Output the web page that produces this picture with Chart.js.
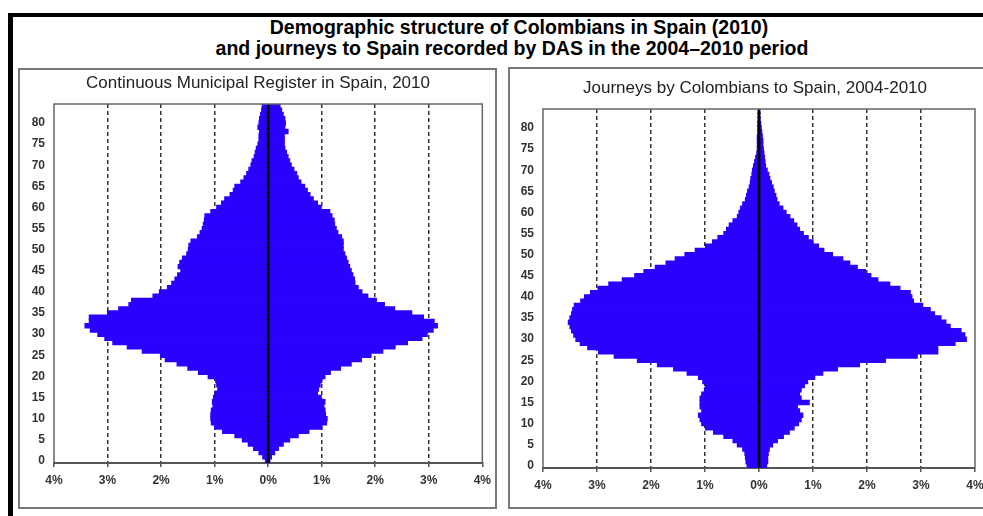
<!DOCTYPE html>
<html>
<head>
<meta charset="utf-8">
<script src="https://cdn.jsdelivr.net/npm/chart.js@4.4.0/dist/chart.umd.min.js"></script>
<style>
html, body { margin: 0; padding: 0; background: #fff; overflow: hidden; width: 983px; height: 516px; }
#frame { position: absolute; left: 8px; top: 13px; width: 1100px; height: 600px; border-top: 4px solid #000; border-left: 5px solid #000; }
.title { position: absolute; width: 800px; height: 22px; line-height: 22px; text-align: center; font: bold 19.5px "Liberation Sans", Arial, sans-serif; color: #000; white-space: nowrap; }
.sub { position: absolute; width: 500px; height: 20px; line-height: 20px; text-align: center; font: 17px "Liberation Sans", Arial, sans-serif; color: #222; white-space: nowrap; }
.box { position: absolute; }
.edge { position: absolute; border: 2px solid #777; box-sizing: border-box; pointer-events: none; }
</style>
</head>
<body>
<div id="frame"></div>
<div class="title" style="left:119px; top:16px;">Demographic structure of Colombians in Spain (2010)</div>
<div class="title" style="left:112px; top:37px;">and journeys to Spain recorded by DAS in the 2004–2010 period</div>

<div class="box" style="left:18px; top:68px; width:479px; height:440px;"><canvas id="register"></canvas></div>
<div class="edge" style="left:18px; top:68px; width:479px; height:441px;"></div>
<div class="sub" style="left:8px; top:73px;">Continuous Municipal Register in Spain, 2010</div>

<div class="box" style="left:508px; top:67px; width:495px; height:441px;"><canvas id="journeys"></canvas></div>
<div class="edge" style="left:508px; top:67px; width:495px; height:442px;"></div>
<div class="sub" style="left:505px; top:78px;">Journeys by Colombians to Spain, 2004-2010</div>

<script>
// single years of age, bottom to top
const ages = [0, 1, 2, 3, 4, 5, 6, 7, 8, 9, 10, 11, 12, 13, 14, 15, 16, 17, 18, 19,
  20, 21, 22, 23, 24, 25, 26, 27, 28, 29, 30, 31, 32, 33, 34, 35, 36, 37, 38, 39,
  40, 41, 42, 43, 44, 45, 46, 47, 48, 49, 50, 51, 52, 53, 54, 55, 56, 57, 58, 59,
  60, 61, 62, 63, 64, 65, 66, 67, 68, 69, 70, 71, 72, 73, 74, 75, 76, 77, 78, 79,
  80, 81, 82, 83, 84];

// % of total, left half of the pyramid (Municipal Register 2010)
const registerLeft = [0.05, 0.10, 0.17, 0.27, 0.37, 0.48, 0.62, 0.85, 1.00, 1.06,
  1.07, 1.07, 1.06, 1.03, 1.04, 1.02, 0.99, 0.94, 0.96, 0.98,
  1.12, 1.30, 1.50, 1.70, 1.92, 2.01, 2.35, 2.63, 2.90, 3.05,
  3.18, 3.32, 3.42, 3.34, 3.34, 3.00, 2.79, 2.60, 2.55, 2.15,
  2.03, 1.88, 1.80, 1.74, 1.69, 1.63, 1.68, 1.65, 1.60, 1.52,
  1.49, 1.48, 1.44, 1.32, 1.27, 1.23, 1.21, 1.19, 1.18, 1.07,
  0.96, 0.87, 0.81, 0.71, 0.65, 0.62, 0.51, 0.45, 0.40, 0.36,
  0.32, 0.30, 0.26, 0.24, 0.22, 0.19, 0.17, 0.17, 0.16, 0.19,
  0.17, 0.16, 0.14, 0.12, 0.11];

// % of total, right half (Municipal Register 2010)
const registerRight = [0.03, 0.06, 0.12, 0.19, 0.28, 0.40, 0.56, 0.76, 1.00, 1.09,
  1.10, 1.07, 1.06, 1.04, 1.06, 0.99, 0.92, 0.94, 0.97, 1.00,
  1.06, 1.16, 1.35, 1.55, 1.74, 1.92, 2.14, 2.37, 2.60, 2.87,
  2.97, 3.08, 3.16, 3.10, 2.90, 2.68, 2.36, 2.17, 2.02, 1.86,
  1.75, 1.68, 1.62, 1.61, 1.58, 1.55, 1.52, 1.49, 1.46, 1.43,
  1.40, 1.40, 1.40, 1.37, 1.30, 1.27, 1.24, 1.23, 1.19, 1.15,
  0.99, 0.92, 0.84, 0.78, 0.73, 0.68, 0.61, 0.56, 0.53, 0.48,
  0.43, 0.40, 0.37, 0.34, 0.31, 0.30, 0.30, 0.30, 0.37, 0.31,
  0.32, 0.31, 0.28, 0.25, 0.22];

// % of total, left half (DAS journeys 2004-2010)
const journeysLeft = [0.22, 0.24, 0.25, 0.26, 0.30, 0.40, 0.48, 0.65, 0.84, 0.99,
  1.06, 1.09, 1.12, 1.06, 1.09, 1.09, 1.09, 1.06, 1.01, 0.99,
  1.04, 1.12, 1.33, 1.58, 1.88, 2.25, 2.68, 2.97, 3.17, 3.31,
  3.39, 3.43, 3.47, 3.50, 3.53, 3.50, 3.47, 3.45, 3.42, 3.30,
  3.23, 3.12, 2.98, 2.78, 2.53, 2.30, 2.13, 1.92, 1.72, 1.55,
  1.37, 1.18, 0.99, 0.86, 0.76, 0.65, 0.60, 0.55, 0.48, 0.40,
  0.37, 0.34, 0.30, 0.25, 0.23, 0.21, 0.18, 0.16, 0.15, 0.13,
  0.12, 0.10, 0.08, 0.06, 0.04, 0.03, 0.03, 0.03, 0.03, 0.02,
  0.02, 0.02, 0.01, 0.01, 0.01];

// % of total, right half (DAS journeys 2004-2010)
const journeysRight = [0.14, 0.16, 0.16, 0.17, 0.19, 0.25, 0.34, 0.45, 0.56, 0.65,
  0.73, 0.78, 0.81, 0.75, 0.71, 0.93, 0.78, 0.75, 0.78, 0.84,
  0.90, 1.03, 1.18, 1.45, 1.86, 2.34, 2.93, 3.31, 3.31, 3.63,
  3.84, 3.81, 3.74, 3.54, 3.46, 3.37, 3.25, 3.17, 3.03, 2.86,
  2.83, 2.80, 2.61, 2.42, 2.20, 2.07, 1.97, 1.82, 1.68, 1.55,
  1.36, 1.20, 1.10, 1.00, 0.91, 0.82, 0.75, 0.70, 0.64, 0.57,
  0.50, 0.44, 0.37, 0.33, 0.31, 0.28, 0.26, 0.23, 0.20, 0.18,
  0.15, 0.12, 0.11, 0.10, 0.09, 0.08, 0.07, 0.07, 0.06, 0.05,
  0.04, 0.03, 0.02, 0.01, 0.01];

const xTicks = [-4, -3, -2, -1, 0, 1, 2, 3, 4];

const barColor = '#2a00ff';
const font = '"Liberation Sans", Arial, sans-serif';

// black centre axis drawn over the bars
const zeroLine = {
  id: 'zeroLine',
  afterDatasetsDraw(chart) {
    const { ctx, chartArea: a, scales: { x, y } } = chart;
    const x0 = x.getPixelForValue(0);
    ctx.save();
    ctx.strokeStyle = '#000';
    ctx.lineWidth = 2.5;
    ctx.beginPath();
    ctx.moveTo(x0, a.top);
    ctx.lineTo(x0, a.bottom);
    ctx.stroke();
    ctx.lineWidth = 1;
    ctx.strokeStyle = '#111';
    ctx.beginPath();
    for (let i = 0; i < ages.length - 1; i++) {
      const yy = (y.getPixelForValue(i) + y.getPixelForValue(i + 1)) / 2;
      ctx.moveTo(x0 - 2, yy);
      ctx.lineTo(x0 + 2, yy);
    }
    ctx.stroke();
    ctx.restore();
  }
};

// grey frame round the plot area (bottom side is the x axis)
const plotBox = {
  id: 'plotBox',
  afterDraw(chart) {
    const { ctx, chartArea: a } = chart;
    ctx.save();
    ctx.strokeStyle = '#666';
    ctx.lineWidth = 1.5;
    ctx.beginPath();
    ctx.moveTo(a.left, a.bottom);
    ctx.lineTo(a.left, a.top);
    ctx.lineTo(a.right, a.top);
    ctx.lineTo(a.right, a.bottom);
    ctx.stroke();
    ctx.restore();
  }
};

function makePyramid(id, left, right, opt) {
  const ctx = document.getElementById(id).getContext('2d');
  const bar = { backgroundColor: barColor, borderWidth: 0, barPercentage: 1, categoryPercentage: 1, inflateAmount: 0.6 };
  return new Chart(ctx, {
    type: 'bar',
    data: {
      labels: ages,
      datasets: [
        Object.assign({ data: left.map(v => -v) }, bar),
        Object.assign({ data: right }, bar)
      ]
    },
    options: {
      indexAxis: 'y',
      responsive: true,
      maintainAspectRatio: false,
      animation: false,
      layout: { padding: { left: 0, right: opt.padRight, top: opt.padTop, bottom: 0 } },
      plugins: {
        legend: { display: false },
        tooltip: { enabled: false }
      },
      scales: {
        x: {
          type: 'linear',
          stacked: true,
          min: -4,
          max: 4,
          afterBuildTicks: s => { s.ticks = xTicks.map(v => ({ value: v })); },
          afterFit: s => { s.height = opt.xHeight; },
          ticks: {
            color: '#333',
            font: { family: font, size: 12, weight: 'bold' },
            padding: 6,
            callback: v => Math.abs(v) + '%'
          },
          grid: {
            color: c => (c.tick && Math.abs(c.tick.value) > 0 && Math.abs(c.tick.value) < 4) ? '#333' : 'rgba(0,0,0,0)',
            lineWidth: 1.5,
            tickLength: 4,
            tickColor: '#555'
          },
          border: {
            display: true,
            color: '#555',
            width: 2,
            dash: c => (c.tick ? [4, 3] : [])
          }
        },
        y: {
          type: 'category',
          stacked: true,
          reverse: true,
          afterFit: s => { s.width = opt.yWidth; },
          grid: { display: false, drawTicks: false },
          border: { display: false },
          ticks: {
            autoSkip: false,
            color: '#333',
            padding: 9,
            font: { family: font, size: 12, weight: 'bold' },
            callback: function (v) {
              const age = this.getLabelForValue(v);
              return age % 5 === 0 ? String(age) : '';
            }
          }
        }
      }
    },
    plugins: [zeroLine, plotBox]
  });
}

makePyramid('register', registerLeft, registerRight,
  { padRight: 11, padTop: 36, xHeight: 45, yWidth: 36 });
makePyramid('journeys', journeysLeft, journeysRight,
  { padRight: 28, padTop: 42, xHeight: 40, yWidth: 35 });
</script>
</body>
</html>
